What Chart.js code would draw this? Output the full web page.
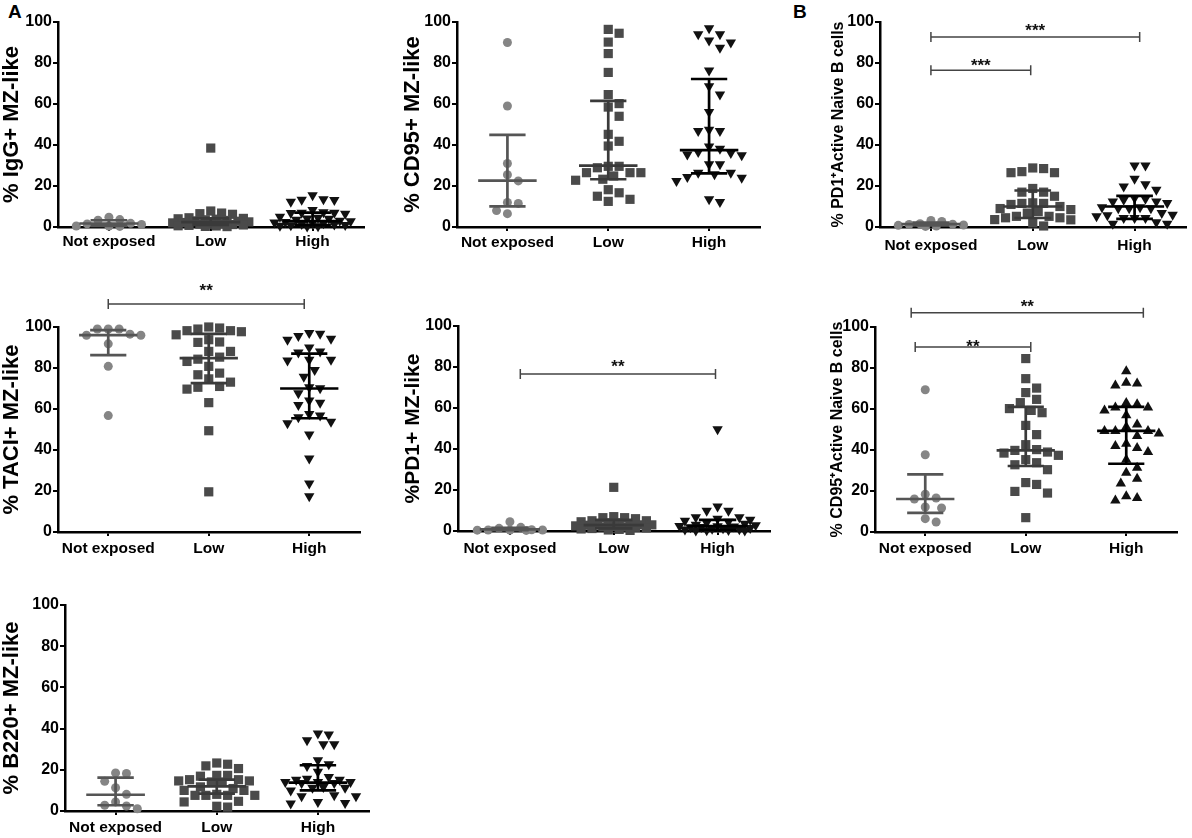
<!DOCTYPE html>
<html>
<head>
<meta charset="utf-8">
<script src="https://cdn.jsdelivr.net/npm/chart.js@4.4.1/dist/chart.umd.min.js"></script>
<style>
  body { margin: 0; background: #fff; width: 1192px; height: 838px; position: relative; overflow: hidden; }
  canvas { position: absolute; }
  .tag { position: absolute; font: bold 19px "Liberation Sans", Arial, sans-serif; color: #000; }
</style>
</head>
<body>
<div class="tag" style="left:8px;top:1px">A</div>
<div class="tag" style="left:793px;top:1px">B</div>
<script>
const groups = ["Not exposed", "Low", "High"];
const yTicks = [0, 20, 40, 60, 80, 100];

// % IgG+ MZ-like
const iggNot = [4.8, 3.3, 3.6, 1.8, 1.5, 1.2, 0.5, 0.4, 0.3];
const iggLow = [38.5, 7.8, 6.8, 6.5, 6.2, 4.5, 4.2, 4.0, 3.8, 3.5, 3.2, 3.0, 2.8, 2.5, 2.2, 2.0, 1.8, 1.5, 1.4, 1.2, 1.0, 0.8, 0.6, 0.5, 0.3, 0.2];
const iggHigh = [15.5, 13.5, 13.3, 13.2, 12.3, 8.3, 7.2, 7.0, 7.0, 6.8, 6.5, 5.0, 4.5, 4.2, 4.0, 3.5, 3.0, 2.8, 2.5, 2.2, 2.0, 1.8, 1.5, 1.2, 1.0, 0.8, 0.6, 0.4, 0.2];
const iggMed = [1.7, 2.4, 2.9], iggQ1 = [0.5, 1.0, 0.9], iggQ3 = [3.3, 4.2, 7.0];

// % CD95+ MZ-like
const cd95Not = [90, 59, 31, 25.5, 22.5, 12, 11.5, 8, 6.5];
const cd95Low = [94.5, 96.4, 90.2, 84.6, 75.4, 64.6, 58.5, 60.2, 54, 45.2, 41.8, 39.5, 29.6, 29.6, 26.5, 26.5, 26.5, 28.9, 24.9, 22.8, 23.3, 18.2, 16.7, 15, 13.5, 12.5];
const cd95High = [94, 91, 94, 97, 90, 87.5, 76.4, 64.6, 68.6, 56.1, 47.5, 46.8, 46.8, 39.3, 38.2, 36.6, 35.4, 35, 36.1, 30.6, 30.6, 26.5, 25.7, 24.4, 22.4, 24, 26.5, 12.2, 13.5];
const cd95Med = [22.6, 29.9, 37.5], cd95Q1 = [10.1, 23.3, 26.2], cd95Q3 = [44.9, 61.5, 72.2];

// % PD1+ Active Naive B cells
const pd1nNot = [3.2, 2.7, 1.6, 1.4, 1.2, 1.0, 0.8, 0.5, 0.3];
const pd1nLow = [28.5, 26.5, 26.5, 27, 28.8, 17, 15, 17, 18.8, 11.5, 11, 11.5, 10, 11.8, 9, 8.5, 4.5, 3.6, 4.5, 3.5, 5.2, 5.2, 0.5, 6.8, 7.5, 2];
const pd1nHigh = [30, 30, 23.5, 19.8, 18.2, 20.9, 13.3, 11.7, 14.1, 12.5, 12.5, 13.8, 9.2, 9.2, 9.2, 9.6, 9.6, 5.7, 4.4, 4.4, 5.2, 4.4, 6, 2.3, 1.6, 1.6, 6.8];
const pd1nMed = [1.4, 10, 10], pd1nQ1 = [0.8, 4.4, 4], pd1nQ3 = [2.2, 17.8, 15.2];

// % TACI+ MZ-like
const taciNot = [99, 99, 99, 96.5, 96, 96, 91.8, 80.8, 56.8];
const taciLow = [100, 97.7, 99, 98.2, 99.5, 98.2, 93.8, 92.5, 92.7, 96.2, 88.1, 88.1, 84.3, 83.2, 85.3, 80.8, 76.7, 77.5, 74.7, 73.1, 70.6, 69.7, 71, 63.1, 49.4, 19.6];
const taciHigh = [96.7, 94.3, 93.8, 95.6, 97.1, 88.1, 83.7, 84, 87.6, 84, 90, 79, 75.7, 67.7, 70.1, 70.6, 63.1, 62, 64.1, 56.8, 53.8, 53, 56, 57.6, 47.6, 35.9, 23.7, 17.5];
const taciMed = [96, 84.8, 70], taciQ1 = [86.3, 72.6, 55.5], taciQ3 = [98.5, 96.6, 87];

// %PD1+ MZ-like
const pd1Not = [4.5, 1.8, 1.3, 0.6, 0.5, 0.5, 0.4, 0.4, 0.3];
const pd1Low = [21.3, 7, 6.5, 6.5, 6, 5, 5, 4.5, 4, 4, 3.5, 3.5, 3, 3, 2.8, 2.5, 2.2, 2, 2, 1.8, 1.5, 1.2, 1, 0.8, 0.5, 0.3];
const pd1High = [49.6, 11.9, 9.9, 9.9, 6.7, 6.7, 6, 5.5, 5, 4.5, 4, 3.5, 3, 2.8, 2.5, 2.3, 2.2, 2, 1.8, 1.5, 1.3, 1.1, 0.9, 0.7, 0.5, 0.4, 0.3, 0.2];
const pd1Med = [0.8, 2.9, 2.4], pd1Q1 = [0.4, 1.3, 0.6], pd1Q3 = [1.5, 5.4, 5.4];

// % CD95+ Active Naive B cells
const cd95nNot = [69.4, 37.7, 16.6, 18.4, 16.1, 12.2, 11.7, 6.5, 4.9];
const cd95nLow = [84.6, 74.8, 70.2, 68, 64.7, 63.1, 59.3, 58.2, 60.2, 52, 47.5, 42.6, 39.8, 38.5, 37.4, 39, 40.2, 33.8, 32.8, 30.4, 35.3, 24.1, 19.8, 19, 23.2, 7];
const cd95nHigh = [78.4, 72.8, 71.5, 72.4, 62.9, 60.7, 59.3, 56.9, 60.7, 62.3, 52.4, 49.3, 49.3, 48, 46.8, 49.3, 51.2, 43.1, 41, 39, 42, 35.3, 31.4, 28.9, 26, 23.6, 17.4, 15.4, 16.6];
const cd95nMed = [16.1, 39.8, 49.3], cd95nQ1 = [9.3, 32.2, 33.3], cd95nQ3 = [28.1, 61, 61];

// % B220+ MZ-like
const b220Not = [18.5, 18.2, 14.4, 11.3, 8.1, 4.4, 2.8, 2.4, 1.1];
const b220Low = [21.9, 23.3, 22.7, 20.6, 17.3, 16.9, 17.3, 15.2, 14.1, 14.1, 14.6, 15.2, 14.6, 10, 11.7, 10.9, 10, 8.1, 7.6, 7.6, 7.6, 7.6, 4.7, 2.3, 1.9, 4.4];
const b220High = [37.6, 37.1, 34.4, 32.4, 32.4, 24.6, 22.7, 21.9, 19, 15.7, 15.2, 15.2, 16.5, 14.1, 14.1, 13.6, 13.6, 14.1, 11.7, 11.3, 11.3, 7.6, 7.1, 4.4, 3.6, 3.9, 7.1, 10];
const b220Med = [7.9, 12, 13.8], b220Q1 = [2.8, 8.4, 10], b220Q3 = [16.2, 15.2, 22.2];

const FONT = '"Liberation Sans", Arial, Helvetica, sans-serif';
const pointColors = ["#858585", "#4a4a4a", "#111111"];
const lineColors = ["#555555", "#3a3a3a", "#000000"];

const panels = [
  { title: "% IgG+ MZ-like", fs: 22, titleCx: 12, axisX: 58, rightX: 367, topY: 22, bottomY: 227, top: 0, labelPad: 1,
    sets: [iggNot, iggLow, iggHigh], med: iggMed, q1: iggQ1, q3: iggQ3, brackets: [] },
  { title: "% CD95+ MZ-like", fs: 22, titleCx: 413, axisX: 457, rightX: 763, topY: 22, bottomY: 227, top: 0, labelPad: 2,
    sets: [cd95Not, cd95Low, cd95High], med: cd95Med, q1: cd95Q1, q3: cd95Q3, brackets: [] },
  { title: "% PD1\u207AActive Naive B cells", fs: 16, titleCx: 839, axisX: 880, rightX: 1189, topY: 22, bottomY: 227, top: 0, labelPad: 5,
    sets: [pd1nNot, pd1nLow, pd1nHigh], med: pd1nMed, q1: pd1nQ1, q3: pd1nQ3,
    brackets: [{ from: 0, to: 2.05, y: 92.7, text: "***", ty: 97.6 }, { from: 0, to: 0.98, y: 76.5, text: "***", ty: 80.5 }] },
  { title: "% TACI+ MZ-like", fs: 22, titleCx: 12, axisX: 58, rightX: 363, topY: 327, bottomY: 532, top: 270, labelPad: 3,
    sets: [taciNot, taciLow, taciHigh], med: taciMed, q1: taciQ1, q3: taciQ3,
    brackets: [{ from: 0, to: 1.95, y: 111.2, text: "**", ty: 119.5 }] },
  { title: "%PD1+ MZ-like", fs: 21, titleCx: 413, axisX: 458, rightX: 773, topY: 326, bottomY: 531, top: 300, labelPad: 4,
    sets: [pd1Not, pd1Low, pd1High], med: pd1Med, q1: pd1Q1, q3: pd1Q3,
    brackets: [{ from: 0.1, to: 1.98, y: 76.6, text: "**", ty: 82 }] },
  { title: "% CD95\u207AActive Naive B cells", fs: 16, titleCx: 838, axisX: 875, rightX: 1180, topY: 327, bottomY: 532, top: 270, labelPad: 3,
    sets: [cd95nNot, cd95nLow, cd95nHigh], med: cd95nMed, q1: cd95nQ1, q3: cd95nQ3, highUp: true,
    brackets: [{ from: -0.14, to: 2.17, y: 107, text: "**", ty: 111.7 }, { from: -0.1, to: 1.05, y: 90.2, text: "**", ty: 92.2 }] },
  { title: "% B220+ MZ-like", fs: 22, titleCx: 12, axisX: 65, rightX: 372, topY: 605, bottomY: 811, top: 580, labelPad: 3,
    sets: [b220Not, b220Low, b220High], med: b220Med, q1: b220Q1, q3: b220Q3, brackets: [] }
];

// spread points sideways like a dot plot (pixels -> x units)
function swarm(values, pxX, pxY) {
  const d = 11, maxOff = 40;
  const order = values.map((v, i) => i).sort((a, b) => values[b] - values[a]);
  const cands = [0];
  for (let k = 1; k * d / 2 <= maxOff; k++) cands.push(k * d / 2, -k * d / 2);
  const placed = [], off = new Array(values.length).fill(0);
  for (const i of order) {
    const py = values[i] * pxY;
    let best = 0, bestDist = -1;
    for (const c of cands) {
      let m = Infinity;
      for (const p of placed) m = Math.min(m, Math.hypot(p.x - c, p.y - py));
      if (m >= d) { best = c; bestDist = m; break; }
      if (m > bestDist) { bestDist = m; best = c; }
    }
    off[i] = best;
    placed.push({ x: best, y: py });
  }
  return off.map(o => o / pxX);
}

function summaryPlugin(p) {
  return {
    id: "summary",
    afterDatasetsDraw(chart) {
      const { ctx } = chart;
      const x = chart.scales.x, y = chart.scales.y;
      ctx.save();
      p.med.forEach((m, g) => {
        const cx = x.getPixelForValue(g);
        const half = x.getPixelForValue(g + 0.29) - cx;
        const cap = x.getPixelForValue(g + 0.18) - cx;
        const ym = y.getPixelForValue(m), y1 = y.getPixelForValue(p.q1[g]), y3 = y.getPixelForValue(p.q3[g]);
        ctx.strokeStyle = lineColors[g];
        ctx.lineWidth = 2.7;
        ctx.beginPath();
        ctx.moveTo(cx - half, ym); ctx.lineTo(cx + half, ym);
        ctx.moveTo(cx - cap, y1); ctx.lineTo(cx + cap, y1);
        ctx.moveTo(cx - cap, y3); ctx.lineTo(cx + cap, y3);
        ctx.moveTo(cx, y1); ctx.lineTo(cx, y3);
        ctx.stroke();
      });
      p.brackets.forEach(b => {
        const x1 = x.getPixelForValue(b.from), x2 = x.getPixelForValue(b.to);
        const by = y.getPixelForValue(b.y);
        ctx.strokeStyle = "#444";
        ctx.lineWidth = 1.5;
        ctx.beginPath();
        ctx.moveTo(x1, by); ctx.lineTo(x2, by);
        ctx.moveTo(x1, by - 5); ctx.lineTo(x1, by + 5);
        ctx.moveTo(x2, by - 5); ctx.lineTo(x2, by + 5);
        ctx.stroke();
        ctx.fillStyle = "#111";
        ctx.font = "bold 17px " + FONT;
        ctx.textAlign = "center";
        ctx.textBaseline = "alphabetic";
        ctx.fillText(b.text, (x1 + x2) / 2, y.getPixelForValue(b.ty) + 9);
      });
      ctx.restore();
    }
  };
}

panels.forEach(p => {
  const left = Math.round(p.titleCx - p.fs / 2);
  const width = p.rightX + 3 - left;
  const xH = 32;
  const height = p.bottomY + xH - p.top;
  const canvas = document.createElement("canvas");
  canvas.width = width; canvas.height = height;
  canvas.style.left = left + "px"; canvas.style.top = p.top + "px";
  canvas.style.width = width + "px"; canvas.style.height = height + "px";
  document.body.appendChild(canvas);

  const pxX = (p.rightX - p.axisX) / 3, pxY = (p.bottomY - p.topY) / 100;
  const styles = [
    { pointStyle: "circle", radius: 4.5, rotation: 0 },
    { pointStyle: "rect", radius: 6.5, rotation: 0 },
    { pointStyle: "triangle", radius: 6, rotation: p.highUp ? 0 : 180 }
  ];
  const datasets = p.sets.map((vals, g) => {
    const off = swarm(vals, pxX, pxY);
    return {
      label: groups[g],
      data: vals.map((v, i) => ({ x: g + off[i], y: v })),
      pointStyle: styles[g].pointStyle,
      pointRadius: styles[g].radius,
      pointRotation: styles[g].rotation,
      pointBackgroundColor: pointColors[g],
      pointBorderWidth: 0,
      pointHoverRadius: styles[g].radius,
      clip: false
    };
  });

  new Chart(canvas.getContext("2d"), {
    type: "scatter",
    data: { datasets },
    options: {
      responsive: false,
      animation: false,
      devicePixelRatio: 1,
      layout: { padding: { top: p.topY - p.top, right: 3, left: 0, bottom: 0 } },
      plugins: { legend: { display: false }, tooltip: { enabled: false } },
      scales: {
        x: {
          type: "linear", min: -0.5, max: 2.5,
          afterBuildTicks: s => { s.ticks = [0, 1, 2].map(v => ({ value: v })); },
          afterFit: s => { s.height = xH; },
          ticks: { callback: v => groups[v], color: "#000", padding: p.labelPad, maxRotation: 0, autoSkip: false,
                   font: { family: FONT, size: 15.5, weight: "bold" } },
          grid: { drawOnChartArea: false, drawTicks: true, tickLength: 4, color: "#000", lineWidth: 2 },
          border: { display: true, color: "#000", width: 2.5 }
        },
        y: {
          min: 0, max: 100,
          afterBuildTicks: s => { s.ticks = yTicks.map(v => ({ value: v })); },
          afterFit: s => { s.width = p.axisX - left; },
          ticks: { color: "#000", padding: 1, font: { family: FONT, size: 16, weight: "bold" } },
          grid: { drawOnChartArea: false, drawTicks: true, tickLength: 5, color: "#000", lineWidth: 2 },
          border: { display: true, color: "#000", width: 2.5 },
          title: { display: true, text: p.title, color: "#000", padding: 0,
                   font: { family: FONT, size: p.fs, weight: "bold", lineHeight: 1 } }
        }
      }
    },
    plugins: [summaryPlugin(p)]
  });
});
</script>
</body>
</html>
